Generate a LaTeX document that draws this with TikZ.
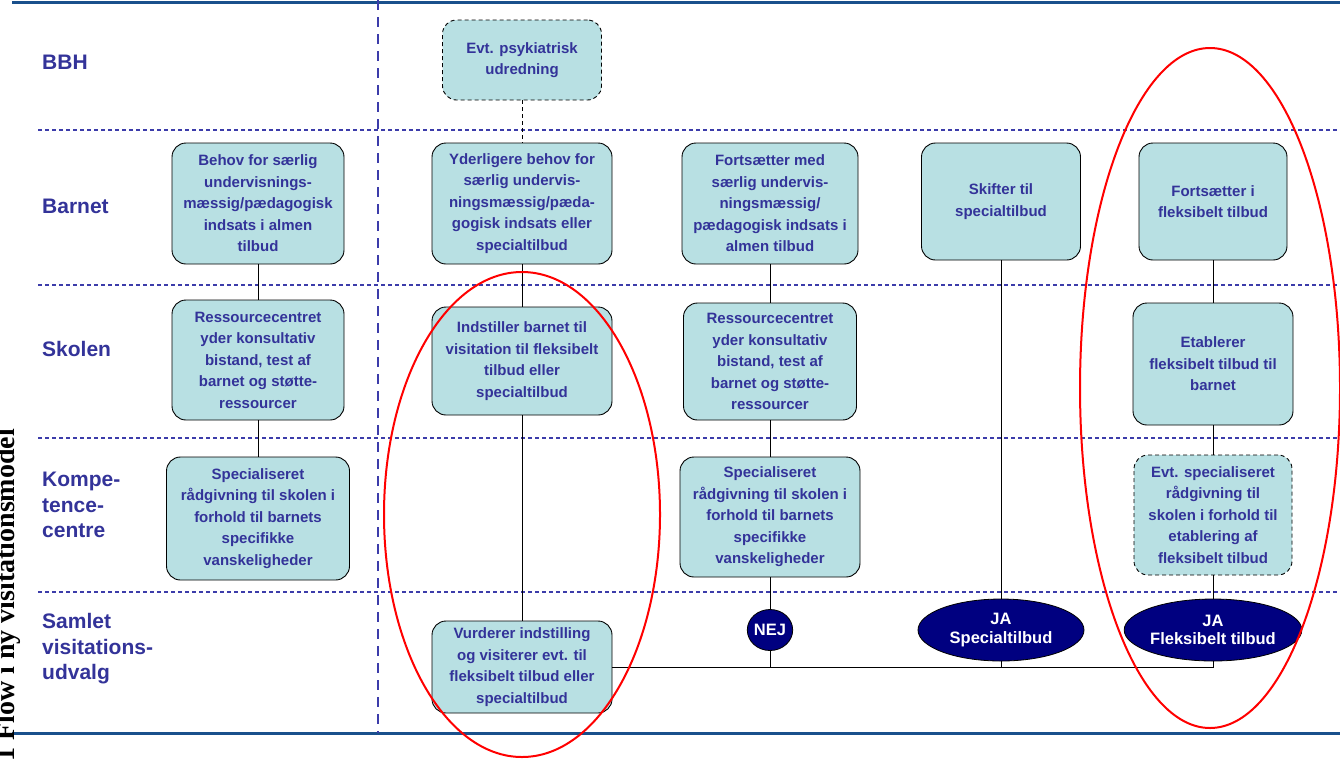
\documentclass[tikz,border=0pt]{standalone}
\usepackage{fontspec}
\setsansfont{Liberation Sans}
\setmainfont{Liberation Serif}
\usetikzlibrary{shapes.geometric}
\definecolor{boxfill}{RGB}{184,224,227}
\definecolor{txt}{RGB}{51,51,153}
\definecolor{sepcol}{RGB}{60,60,170}
\definecolor{hdr}{RGB}{25,80,140}
\definecolor{navyfill}{RGB}{0,0,128}
\begin{document}
\begin{tikzpicture}[x=1pt,y=-1pt,
  flowbox/.style={draw=black, fill=boxfill, rounded corners=14pt, line width=0.9pt,
    align=center, text=txt, font=\sffamily\bfseries\fontsize{15}{21.5}\selectfont, inner sep=0pt},
  dashbox/.style={flowbox, dash pattern=on 4pt off 3pt},
  oval/.style={ellipse, draw=black, line width=0.8pt, fill=navyfill, text=white, align=center,
    font=\sffamily\bfseries\fontsize{16.5}{18.5}\selectfont, inner sep=0pt},
  rowlabel/.style={anchor=west, align=left, inner sep=0pt, text=txt, font=\sffamily\bfseries\fontsize{21}{25.5}\selectfont},
  conn/.style={draw=black, line width=0.9pt},
  sepline/.style={draw=sepcol, line width=1.5pt, dash pattern=on 4pt off 3pt},
  hdrline/.style={draw=hdr, line width=3pt},
  redmark/.style={draw=red, line width=2pt}
]
\fill[white] (0,0) rectangle (1340,764);
\useasboundingbox (0,0) rectangle (1340,764);

% frame lines
\draw[hdrline] (12,2) -- (1340,2);
\draw[hdrline] (12,733) -- (1340,733);
\draw[draw=sepcol, line width=2.2pt, dash pattern=on 10pt off 7pt] (378,0) -- (378,733);
\foreach \yy in {130,285,438,592} {\draw[sepline] (38,\yy) -- (1340,\yy);}

% title (partly cut by the page edge, as in the reference)
\node[rotate=90, anchor=base west, inner sep=0pt, font=\rmfamily\bfseries\fontsize{28}{28}\selectfont] (title) at (14,762) {1 Flow i ny visitationsmodel};

% row labels
\node[rowlabel] (lBBH) at (42,62) {BBH};
\node[rowlabel] (lBarnet) at (42,206) {Barnet};
\node[rowlabel] (lSkolen) at (42,349) {Skolen};
\node[rowlabel] (lKomp) at (42,505) {Kompe-\\tence-\\centre};
\node[rowlabel] (lSaml) at (42,649) {Samlet\\visitations-\\udvalg};

% column 1
\node[flowbox, minimum width=172pt, minimum height=121pt] (B1) at (258,203.5) {Behov for særlig\\undervisnings-\\mæssig/pædagogisk\\indsats i almen\\tilbud};
\node[flowbox, minimum width=172pt, minimum height=120pt] (S1) at (258,360) {Ressourcecentret\\yder konsultativ\\bistand, test af\\barnet og støtte-\\ressourcer};
\node[flowbox, minimum width=183pt, minimum height=123pt] (K1) at (258,518.5) {Specialiseret\\rådgivning til skolen i\\forhold til barnets\\specifikke\\vanskeligheder};
\draw[conn] (B1) -- (S1);
\draw[conn] (S1) -- (K1);

% column 2
\node[dashbox, minimum width=159pt, minimum height=80pt] (P2) at (522,60) {Evt. psykiatrisk\\udredning};
\node[flowbox, minimum width=180pt, minimum height=121pt] (B2) at (522,203.5) {Yderligere behov for\\særlig undervis-\\ningsmæssig/pæda-\\gogisk indsats eller\\specialtilbud};
\node[flowbox, minimum width=180pt, minimum height=108pt] (S2) at (522,361) {Indstiller barnet til\\visitation til fleksibelt\\tilbud eller\\specialtilbud};
\node[flowbox, minimum width=180pt, minimum height=92pt] (V2) at (522,667) {Vurderer indstilling\\og visiterer evt. til\\fleksibelt tilbud eller\\specialtilbud};
\draw[conn, dash pattern=on 4pt off 3pt] (P2) -- (B2);
\draw[conn] (B2) -- (S2);
\draw[conn] (S2) -- (V2);

% column 3
\node[flowbox, minimum width=176pt, minimum height=121pt] (B3) at (770,203.5) {Fortsætter med\\særlig undervis-\\ningsmæssig/\\pædagogisk indsats i\\almen tilbud};
\node[flowbox, minimum width=173pt, minimum height=117pt] (S3) at (770,361.5) {Ressourcecentret\\yder konsultativ\\bistand, test af\\barnet og støtte-\\ressourcer};
\node[flowbox, minimum width=180pt, minimum height=120pt] (K3) at (770,517) {Specialiseret\\rådgivning til skolen i\\forhold til barnets\\specifikke\\vanskeligheder};
\node[oval, minimum width=44pt, minimum height=41pt] (NEJ) at (770,630) {NEJ};
\draw[conn] (B3) -- (S3);
\draw[conn] (S3) -- (K3);
\draw[conn] (K3) -- (NEJ);

% column 4
\node[flowbox, minimum width=159pt, minimum height=117pt] (B4) at (1001,201.5) {Skifter til\\specialtilbud};
\node[oval, minimum width=166pt, minimum height=62pt] (JA1) at (1001,630) {JA\\Specialtilbud};
\draw[conn] (B4) -- (JA1);

% column 5
\node[flowbox, minimum width=148pt, minimum height=117pt] (B5) at (1213,201.5) {Fortsætter i\\fleksibelt tilbud};
\node[flowbox, minimum width=160pt, minimum height=122pt] (S5) at (1213,364) {Etablerer\\fleksibelt tilbud til\\barnet};
\node[dashbox, minimum width=158pt, minimum height=120pt] (K5) at (1213,515) {Evt. specialiseret\\rådgivning til\\skolen i forhold til\\etablering af\\fleksibelt tilbud};
\node[oval, minimum width=166pt, minimum height=62pt] (JA2) at (1213,630) {JA\\Fleksibelt tilbud};
\draw[conn] (B5) -- (S5);
\draw[conn] (S5) -- (K5);
\draw[conn] (K5) -- (JA2);

% bottom collector
\draw[conn] (V2.east) -- (JA2.south |- V2.east) -- (JA2.south);
\draw[conn] (NEJ.south) -- (NEJ.south |- V2.east);
\draw[conn] (JA1.south) -- (JA1.south |- V2.east);

% red marks
\draw[redmark] (522,514.5) ellipse [x radius=138pt, y radius=242.5pt];
\draw[redmark] (1210,388) ellipse [x radius=130pt, y radius=340pt];
\end{tikzpicture}
\end{document}
